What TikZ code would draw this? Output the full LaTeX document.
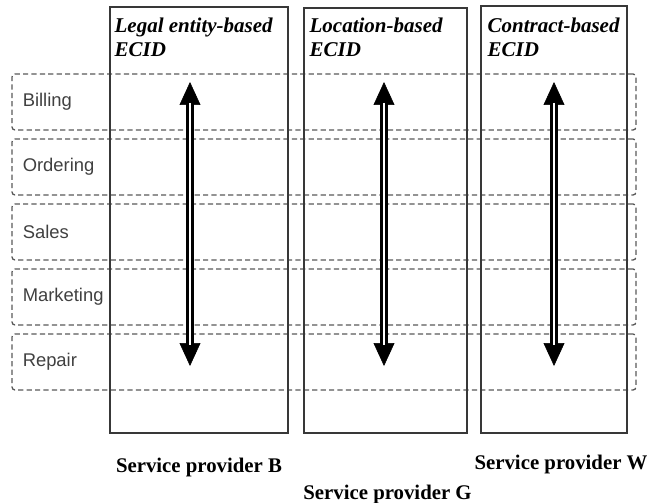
\documentclass[tikz,border=0pt]{standalone}
\usepackage{fontspec}
\setmainfont{Liberation Serif}
\newfontfamily\rowfont{Liberation Sans}
\usetikzlibrary{positioning,arrows.meta}

\tikzset{
  column/.style={draw=black!78,line width=0.75pt,inner sep=0pt},
  row/.style={draw=black!65,line width=0.65pt,dash pattern=on 2.6pt off 1.6pt,
    rounded corners=1.5pt,minimum width=312pt,minimum height=28pt,inner sep=0pt},
  rowlabel/.style={font=\rowfont\fontsize{9.2}{11}\selectfont,text=black!75,inner sep=0pt},
  head/.style={font=\bfseries\itshape\fontsize{10.5}{12}\selectfont,align=left,inner sep=0pt},
  provider/.style={font=\bfseries\fontsize{10.4}{12}\selectfont,inner sep=0pt}
}

\begin{document}
\begin{tikzpicture}[x=0.5pt, y=-0.5pt]
    \useasboundingbox (0,0) rectangle (662,502);
    \tikzstyle{shaft}=[double,line width=1.3pt,double distance=1.4pt,shorten <=10.5pt,shorten >=10.5pt]
    \tikzstyle{heads}=[line width=0.3pt,{Triangle[width=10.5pt,length=11.5pt]}-{Triangle[width=10.5pt,length=11.5pt]}]

    % functions
    \foreach \name [count=\i] in {Billing,Ordering,Sales,Marketing,Repair} {
        \node[row] (R_\i) at (324,37+65*\i) {};
        \node[rowlabel, right=5.5pt of R_\i.west] (L_\i) {\name};
    }

    % ECID types
    \node[column, minimum width=89pt, minimum height=213pt] (C_1) at (199,220) {};
    \node[column, minimum width=81.5pt, minimum height=212.5pt] (C_2) at (385.5,220.5) {};
    \node[column, minimum width=73pt, minimum height=213.5pt] (C_3) at (554,219.5) {};

    \node[head, below right=5.5pt and 2.5pt of C_1.north west] (H_1) {Legal entity-based\\ECID};
    \node[head, below right=5pt and 3pt of C_2.north west] (H_2) {Location-based\\ECID};
    \node[head, below right=6pt and 3.5pt of C_3.north west] (H_3) {Contract-based\\ECID};

    \node[provider, below=12pt of C_1] (P_1) {Service provider B};
    \node[provider, below=25.5pt of C_2, xshift=1pt] (P_2) {Service provider G};
    \node[provider, below=10.5pt of C_3, xshift=3.5pt] (P_3) {Service provider W};

    % arrows
    \coordinate (A_1) at (190,82);  \coordinate (B_1) at (190,366);
    \coordinate (A_2) at (384,82);  \coordinate (B_2) at (384,366);
    \coordinate (A_3) at (554,82);  \coordinate (B_3) at (554,366);

    \draw[heads] (A_1) -- (B_1);
    \draw[heads] (A_2) -- (B_2);
    \draw[heads] (A_3) -- (B_3);
    \draw[shaft] (A_1) -- (B_1);
    \draw[shaft] (A_2) -- (B_2);
    \draw[shaft] (A_3) -- (B_3);
\end{tikzpicture}
\end{document}
